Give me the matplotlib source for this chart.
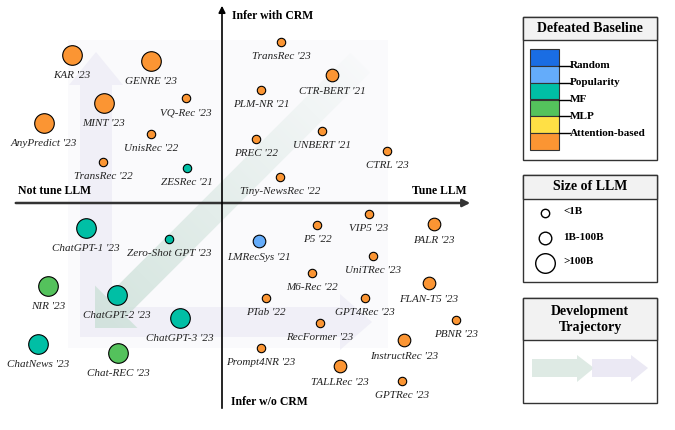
import numpy as np
import matplotlib.pyplot as plt
from matplotlib.patches import Rectangle, Polygon

plt.rcParams['font.family'] = ['Liberation Serif', 'DejaVu Serif']

# model name, position (pixel space), LLM size class, defeated baseline
names = ["KAR '23", "GENRE '23", "VQ-Rec '23", "MINT '23", "AnyPredict '23", "UnisRec '22",
         "TransRec '22", "ZESRec '21",
         "TransRec '23", "CTR-BERT '21", "PLM-NR '21", "UNBERT '21", "PREC '22", "CTRL '23",
         "Tiny-NewsRec '22",
         "ChatGPT-1 '23", "Zero-Shot GPT '23", "NIR '23", "ChatGPT-2 '23", "ChatGPT-3 '23",
         "ChatNews '23", "Chat-REC '23",
         "VIP5 '23", "P5 '22", "PALR '23", "LMRecSys '21", "UniTRec '23", "M6-Rec '22",
         "FLAN-T5 '23", "PTab '22", "GPT4Rec '23", "PBNR '23", "RecFormer '23",
         "InstructRec '23", "Prompt4NR '23", "TALLRec '23", "GPTRec '23"]
xs = [72, 151, 186, 104, 44, 151, 103, 187,
      281, 332, 261, 322, 256, 387, 280,
      86, 169, 48, 117, 180, 38, 118,
      369, 317, 434, 259, 373, 312, 429, 266, 365, 456, 320, 404, 261, 340, 402]
ys = [55, 61, 98, 103, 123, 134, 162, 168,
      42, 75, 90, 131, 139, 151, 177,
      228, 239, 286, 295, 318, 344, 353,
      214, 225, 224, 241, 256, 273, 283, 298, 298, 320, 323, 340, 348, 366, 381]
sizes = ['L', 'L', 'S', 'L', 'L', 'S', 'S', 'S',
         'S', 'M', 'S', 'S', 'S', 'S', 'S',
         'L', 'S', 'L', 'L', 'L', 'L', 'L',
         'S', 'S', 'M', 'M', 'S', 'S', 'M', 'S', 'S', 'S', 'S', 'M', 'S', 'M', 'S']
kinds = ['att', 'att', 'att', 'att', 'att', 'att', 'att', 'mf',
         'att', 'att', 'att', 'att', 'att', 'att', 'att',
         'mf', 'mf', 'mlp', 'mf', 'mf', 'mf', 'mlp',
         'att', 'att', 'att', 'pop', 'att', 'att', 'att', 'att', 'att', 'att', 'att',
         'att', 'att', 'att', 'att']

baseline_labels = ['Random', 'Popularity', 'MF', 'MLP', 'Attention-based']
baseline_colors = ['#1a6de3', '#64acfa', '#00bfa5', '#54c25c', '#ffe045', '#fb9533']
kind_color = {'pop': '#64acfa', 'mf': '#00bfa5', 'mlp': '#54c25c', 'att': '#fb9533'}
size_labels = ['<1B', '1B-100B', '>100B']
radius = {'S': 4.2, 'M': 6.3, 'L': 9.8}

fig = plt.figure(figsize=(6.75, 4.3), dpi=100)
ax = fig.add_axes([0, 0, 1, 1])

# faint background panel
ax.add_patch(Rectangle((68, 40), 320, 308, facecolor='#fafafc', edgecolor='none', zorder=0))

# lavender L-shaped trajectory arrow
lav = [(96, 52), (123, 85), (112, 85), (112, 307), (340, 307), (340, 294), (372, 322),
       (340, 350), (340, 337), (80, 337), (80, 85), (69, 85)]
ax.add_patch(Polygon(lav, closed=True, facecolor='#ebeaf5', edgecolor='none', alpha=0.65, zorder=1))

# diagonal green arrow with fading gradient
tip = np.array([95.0, 328.0])
u = np.array([1.0, -1.0]) / np.sqrt(2)
n = np.array([1.0, 1.0]) / np.sqrt(2)
head_len, head_w, shaft_w, total = 30.0, 30.0, 14.0, 375.0
hb = tip + u * head_len
end = tip + u * total
pts = [tip, hb + n * head_w, hb + n * shaft_w, end + n * shaft_w,
       end - n * shaft_w, hb - n * shaft_w, hb - n * head_w]
band = Polygon(pts, closed=True, facecolor='none', edgecolor='none')
ax.add_patch(band)
X, Y = np.meshgrid(np.arange(675) + 0.5, np.arange(430) + 0.5)
t = ((X - tip[0]) * u[0] + (Y - tip[1]) * u[1]) / total
img = np.zeros((430, 675, 4))
img[..., 0], img[..., 1], img[..., 2] = 0.80, 0.88, 0.85
img[..., 3] = np.clip(0.85 - 0.8 * t, 0, 1)
im = ax.imshow(img, extent=(0, 675, 430, 0), origin='upper', zorder=2)
im.set_clip_path(band)

# quadrant axes
ax.annotate('', xy=(473, 203), xytext=(13, 203),
            arrowprops=dict(arrowstyle='-|>', color='#333333', lw=1.8, mutation_scale=11), zorder=3)
ax.annotate('', xy=(222, 3), xytext=(222, 411),
            arrowprops=dict(arrowstyle='-|>', color='black', lw=1.2, mutation_scale=10), zorder=3)
bold = dict(fontsize=8.5, fontweight='bold', zorder=5)
ax.text(232, 16, 'Infer with CRM', ha='left', va='center', **bold)
ax.text(467, 191, 'Tune LLM', ha='right', va='center', **bold)
ax.text(18, 191, 'Not tune LLM', ha='left', va='center', **bold)
ax.text(231, 402, 'Infer w/o CRM', ha='left', va='center', **bold)

# models
for nm, x, y, sz, k in zip(names, xs, ys, sizes, kinds):
    r = radius[sz]
    ax.scatter([x], [y], s=(2 * r * 0.72) ** 2, color=kind_color[k], edgecolor='black',
               linewidth=0.8, zorder=4)
    ax.text(x, y + r + 10.5, nm, ha='center', va='center', fontsize=8, style='italic',
            color='#222222', zorder=5)

# legend boxes
def legend_box(y0, y1, ytitle, title):
    ax.add_patch(Rectangle((523, y0), 134, y1 - y0, facecolor='white', edgecolor='#333333', lw=1.0, zorder=3))
    ax.add_patch(Rectangle((523, y0), 134, ytitle - y0, facecolor='#f2f2f2', edgecolor='#333333', lw=1.0, zorder=3))
    ax.text(590, (y0 + ytitle) / 2, title, ha='center', va='center', fontsize=10,
            fontweight='bold', linespacing=1.3, zorder=5)

legend_box(17, 160, 40, 'Defeated Baseline')
seg = (150 - 49) / len(baseline_colors)
for i, c in enumerate(baseline_colors):
    ax.add_patch(Rectangle((530, 49 + i * seg), 29, seg, facecolor=c, edgecolor='#333333', lw=0.8, zorder=4))
for i, lab in enumerate(baseline_labels):
    yb = 49 + (i + 1) * seg
    ax.plot([559, 570], [yb, yb], color='black', lw=1.0, zorder=4)
    ax.text(570, yb, lab, ha='left', va='center', fontsize=8, fontweight='bold', zorder=5)

legend_box(175, 282, 199, 'Size of LLM')
for i, (lab, sz) in enumerate(zip(size_labels, ['S', 'M', 'L'])):
    yy = 213 + i * 25
    r = radius[sz]
    ax.scatter([545], [yy], s=(2 * r * 0.72) ** 2, color='white', edgecolor='black', linewidth=1.0, zorder=4)
    ax.text(563, yy - 1, lab, ha='left', va='center', fontsize=8, fontweight='bold', zorder=5)

legend_box(298, 403, 340, 'Development\nTrajectory')
ax.add_patch(Polygon([(532, 359), (577, 359), (577, 355), (594, 368), (577, 382), (577, 377), (532, 377)],
                     closed=True, facecolor='#dbe8e1', edgecolor='none', alpha=0.9, zorder=4))
ax.add_patch(Polygon([(592, 359), (631, 359), (631, 355), (648, 368), (631, 382), (631, 377), (592, 377)],
                     closed=True, facecolor='#e9e7f3', edgecolor='none', alpha=0.9, zorder=4))

ax.set_xlim(0, 675)
ax.set_ylim(430, 0)
ax.set_aspect('auto')
ax.axis('off')
fig.savefig('out.png', dpi=100)
